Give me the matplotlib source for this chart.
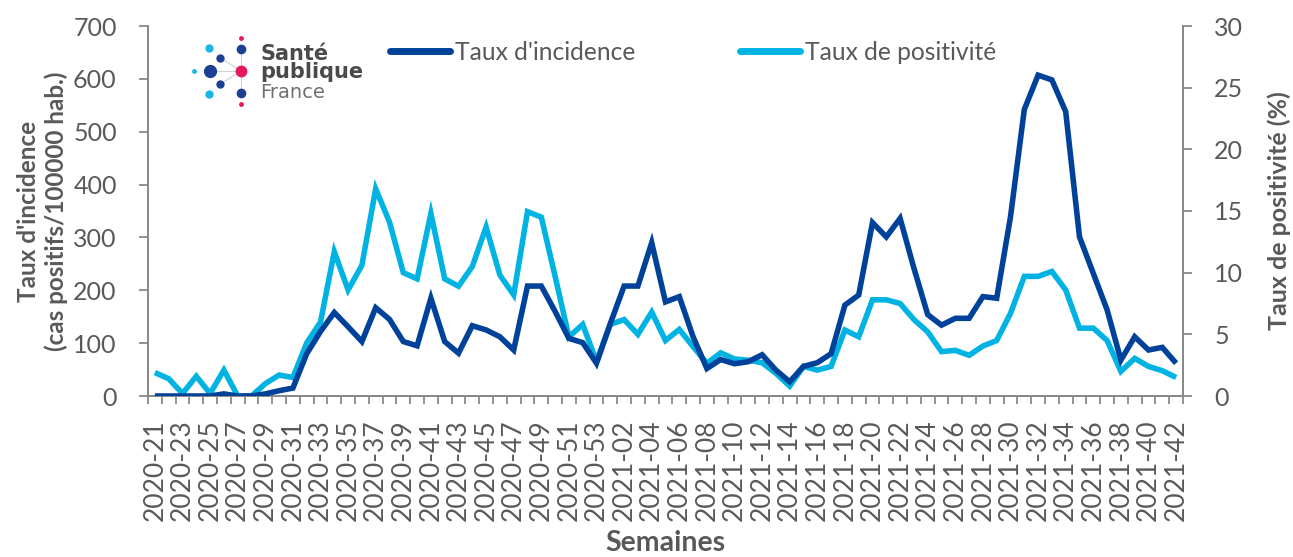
import matplotlib
matplotlib.use("Agg")
import matplotlib.pyplot as plt

plt.rcParams['font.family'] = ['Lato', 'DejaVu Sans']

# ---- data ----
weeks = [f"2020-{w:02d}" for w in range(21, 54)] + [f"2021-{w:02d}" for w in range(1, 43)]

incidence = [0, 0, 0, 0, 0, 4, 0, 0, 4, 10, 15, 80, 122, 158, 131, 103, 167, 145, 103, 95,
             185, 103, 81, 133, 125, 112, 87, 208, 208, 160, 109, 101, 62, 137, 208, 208, 290, 178,
             188, 112, 52, 69, 61, 65, 78, 49, 27, 56, 63, 80, 172, 191, 328, 301, 336, 242,
             154, 134, 147, 147, 188, 185, 339, 542, 607, 598, 538, 301, 232, 163, 68, 112, 87, 92, 62]

positivite = [1.9, 1.4, 0.2, 1.6, 0.2, 2.1, 0.0, 0.0, 1.0, 1.7, 1.5, 4.3, 6.0, 11.7, 8.6, 10.6,
              16.8, 14.1, 10.0, 9.5, 14.8, 9.5, 8.9, 10.5, 13.7, 9.8, 8.2, 14.95, 14.5, 9.7, 4.8,
              5.8, 2.8, 5.8, 6.2, 5.0, 6.8, 4.5, 5.4, 4.0, 2.65, 3.5, 3.0, 2.9, 2.7, 1.84, 0.8,
              2.4, 2.1, 2.4, 5.35, 4.8, 7.8, 7.8, 7.5, 6.2, 5.2, 3.6, 3.7, 3.3, 4.05, 4.5, 6.7,
              9.7, 9.7, 10.1, 8.6, 5.5, 5.5, 4.5, 2.0, 3.05, 2.4, 2.05, 1.5]

label_inc = "Taux d'incidence"
label_pos = "Taux de positivité"

DARK = "#00429A"
LIGHT = "#00B3E3"
GRAY_TXT = "#595959"
GRAY_AX = "#898989"

W, H = 1293, 557
fig = plt.figure(figsize=(W / 100, H / 100), dpi=100)
AX_L, AX_R, AX_T, AX_B = 148, 1183, 26, 396
ax = fig.add_axes([AX_L / W, 1 - AX_B / H, (AX_R - AX_L) / W, (AX_B - AX_T) / H])
ax2 = ax.twinx()

x = list(range(len(weeks)))
l1, = ax.plot(x, incidence, color=DARK, lw=4.0, solid_joinstyle='miter', solid_capstyle='butt', zorder=3)
l2, = ax2.plot(x, positivite, color=LIGHT, lw=4.0, solid_joinstyle='miter', solid_capstyle='butt', zorder=2)
ax.set_zorder(ax2.get_zorder() + 1)
ax.patch.set_visible(False)

ax.set_xlim(-0.5, len(weeks) - 0.5)
ax.set_ylim(0, 700)
ax2.set_ylim(0, 30)
ax.set_yticks(range(0, 701, 100))
ax2.set_yticks(range(0, 31, 5))

ax.set_xticks(x[::2])
ax.set_xticklabels(weeks[::2], rotation=90, fontsize=19, color=GRAY_TXT)
ax.set_xticks([i - 0.5 for i in range(len(weeks) + 1)], minor=True)
ax.tick_params(axis='x', which='major', length=0, pad=17)
ax.tick_params(axis='x', which='minor', length=6, width=1.3, color=GRAY_AX, direction='out')
ax.tick_params(axis='y', length=6.5, width=1.3, color=GRAY_AX, labelsize=18, labelcolor=GRAY_TXT, pad=16)
ax2.tick_params(axis='y', length=6.5, width=1.3, color=GRAY_AX, labelsize=18, labelcolor=GRAY_TXT, pad=16)

for a in (ax, ax2):
    a.spines['top'].set_visible(False)
    for s in ('left', 'right', 'bottom'):
        a.spines[s].set_color(GRAY_AX)
        a.spines[s].set_linewidth(1.3)

ax.set_ylabel("Taux d'incidence\n(cas positifs/100000 hab.)", fontsize=17.5, fontweight='bold',
              color=GRAY_TXT, linespacing=1.2, labelpad=4)
ax2.set_ylabel("Taux de positivité (%)", fontsize=18, fontweight='bold', color=GRAY_TXT, labelpad=17)
fig.text((AX_L + AX_R) / 2 / W, 1 / H, "Semaines", fontsize=20.5, fontweight='bold', color=GRAY_TXT,
         ha='center', va='bottom')

fs_leg = 17.7
em = fs_leg * 100 / 72
leg = ax.legend([l1, l2], [label_inc, label_pos], ncol=2, loc='center left',
                bbox_to_anchor=((390 - AX_L) / (AX_R - AX_L), (AX_B - 52) / (AX_B - AX_T)),
                frameon=False, fontsize=fs_leg, handlelength=60 / em, handletextpad=5 / em,
                columnspacing=105 / em, borderpad=0, borderaxespad=0, labelcolor=GRAY_TXT)
for h in leg.legend_handles:
    h.set_linewidth(5)
    h.set_solid_capstyle('round')

# ---- logo (Santé publique France) ----
lax = fig.add_axes([185 / W, 1 - 110 / H, 190 / W, 80 / H])
lax.set_xlim(185, 375)
lax.set_ylim(110, 30)
lax.axis('off')
LOGO_DARK = "#1D3F94"
LOGO_LIGHT = "#1BB6E8"
LOGO_PINK = "#E5185A"
cx, cy = 241, 71
for (px, py) in [(241, 49), (220, 57.7), (210, 71), (220, 84.3), (241, 93)]:
    lax.plot([cx, px], [cy, py], color="#CFCFCF", lw=0.8, zorder=1)
dots = [(209.3, 48.3, 6, LOGO_LIGHT), (241, 49, 7, LOGO_DARK), (241, 38.3, 3.5, LOGO_PINK),
        (220, 57.7, 6, LOGO_DARK), (194, 71, 3.5, LOGO_LIGHT), (210, 71, 9.5, LOGO_DARK),
        (241, 71, 8.5, LOGO_PINK), (220, 84.3, 6, LOGO_DARK), (209.3, 94, 6, LOGO_LIGHT),
        (241, 93, 7, LOGO_DARK), (241, 104, 3.5, LOGO_PINK)]
for (px, py, s, c) in dots:
    lax.plot(px, py, 'o', ms=s, color=c, mec='none', zorder=2)
lax.text(260, 60, "Santé", fontsize=15, fontweight='bold', color="#4A4A4A", va='baseline', ha='left',
         family='DejaVu Sans')
lax.text(260, 77.5, "publique", fontsize=15, fontweight='bold', color="#4A4A4A", va='baseline', ha='left',
         family='DejaVu Sans')
lax.text(260, 98.3, "France", fontsize=14, color="#707070", va='baseline', ha='left',
         family='DejaVu Sans')

fig.savefig("out.png", dpi=100)
